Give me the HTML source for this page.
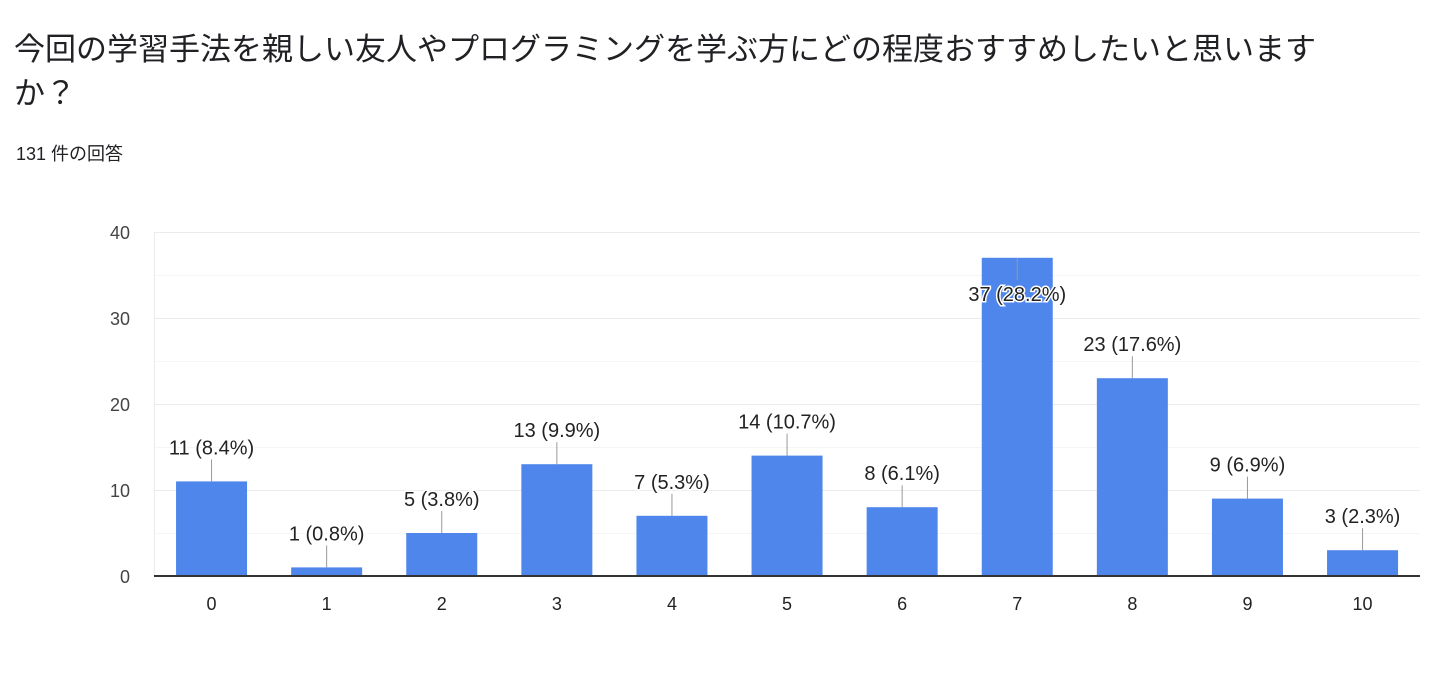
<!DOCTYPE html>
<html><head><meta charset="utf-8"><style>
body{margin:0;background:#fff;width:1440px;height:685px;overflow:hidden;font-family:"Liberation Sans","Noto Sans CJK JP",sans-serif;color:#202124}
.t{position:absolute;left:14px;top:28px;font-size:31px;line-height:44px;width:1330px}
.s{position:absolute;left:16px;top:140px;font-size:18px}
svg{position:absolute;left:0;top:0}
</style></head><body>
<div class="t">今回の学習手法を親しい友人やプログラミングを学ぶ方にどの程度おすすめしたいと思いますか？</div>
<div class="s">131 件の回答</div>
<svg width="1440" height="685" font-family="Liberation Sans, sans-serif">
<g stroke="#ebebeb" stroke-width="1">
<line x1="154" x2="1420" y1="232.5" y2="232.5"/><line x1="154" x2="1420" y1="318.5" y2="318.5"/>
<line x1="154" x2="1420" y1="404.5" y2="404.5"/><line x1="154" x2="1420" y1="490.5" y2="490.5"/>
</g>
<g stroke="#f5f5f5" stroke-width="1">
<line x1="154" x2="1420" y1="275.5" y2="275.5"/><line x1="154" x2="1420" y1="361.5" y2="361.5"/>
<line x1="154" x2="1420" y1="447.5" y2="447.5"/><line x1="154" x2="1420" y1="533.5" y2="533.5"/>
</g>
<line x1="154.5" x2="154.5" y1="232" y2="576" stroke="#ebebeb"/>
<g font-size="18" fill="#444" text-anchor="end">
<text x="130" y="239">40</text><text x="130" y="325">30</text><text x="130" y="411">20</text><text x="130" y="497">10</text><text x="130" y="583">0</text>
</g>
<g id="bars"></g>
<line x1="154" x2="1420" y1="576" y2="576" stroke="#333" stroke-width="2"/>
</svg>
<script>
(function(){
var v=[11,1,5,13,7,14,8,37,23,9,3],p=["8.4","0.8","3.8","9.9","5.3","10.7","6.1","28.2","17.6","6.9","2.3"];
var g=document.getElementById('bars'),h='';
for(var i=0;i<11;i++){var cx=154+115.1*(i+0.5),bt=576-8.6*v[i];
h+='<rect x="'+(cx-35.5)+'" y="'+bt+'" width="71" height="'+(576-bt)+'" fill="#4f86ec"/>';
var ly=bt-34,lt=bt-22;if(i==7){ly=294;lt=280;}
h+='<line x1="'+cx+'" x2="'+cx+'" y1="'+bt+'" y2="'+lt+'" stroke="#999"/>';
h+='<text x="'+cx+'" y="'+(ly+7)+'" font-size="20" text-anchor="middle" fill="#222" stroke="#fff" stroke-width="3" paint-order="stroke">'+v[i]+' ('+p[i]+'%)</text>';
h+='<text x="'+cx+'" y="610" font-size="18" text-anchor="middle" fill="#222">'+i+'</text>';}
g.innerHTML=h;
})();
</script>
</body></html>
